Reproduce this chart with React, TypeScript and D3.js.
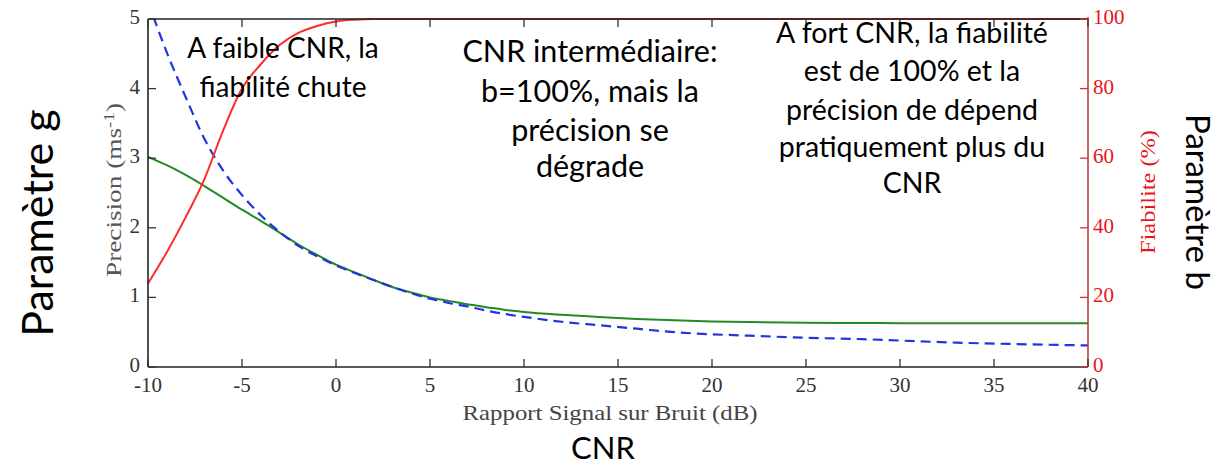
import React from "react";
import * as d3 from "d3";

// ---- data ----
const snrDb = [-10, -9, -8, -7, -6, -5, -4, -3, -2, -1, 0, 1, 2, 3, 4, 5, 6, 7, 8, 9, 10, 12, 14, 16, 18, 20, 22, 25, 28, 30, 33, 36, 40];
const precisionG = [3.02, 2.9, 2.76, 2.6, 2.43, 2.26, 2.1, 1.93, 1.76, 1.61, 1.47, 1.36, 1.25, 1.15, 1.07, 1.0, 0.95, 0.9, 0.86, 0.82, 0.79, 0.75, 0.72, 0.69, 0.67, 0.655, 0.645, 0.635, 0.632, 0.63, 0.63, 0.63, 0.63];
const precisionB = [5.25, 4.52, 3.88, 3.28, 2.82, 2.47, 2.18, 1.94, 1.74, 1.59, 1.46, 1.35, 1.25, 1.15, 1.06, 0.98, 0.92, 0.87, 0.81, 0.76, 0.72, 0.65, 0.6, 0.55, 0.5, 0.47, 0.45, 0.42, 0.4, 0.38, 0.35, 0.33, 0.31];
const reliabilityDb = [-10, -9, -8, -7, -6, -5, -4, -3, -2, -1, 0, 1, 2, 3, 40];
const reliability = [24, 33, 43, 54, 68, 80, 87, 92.5, 96, 98, 99.3, 99.8, 100, 100, 100];

const xTicks = [-10, -5, 0, 5, 10, 15, 20, 25, 30, 35, 40];
const yLeftTicks = [0, 1, 2, 3, 4, 5];
const yRightTicks = [0, 20, 40, 60, 80, 100];

const noteLow = ["A faible CNR, la", "fiabilité chute"];
const noteMid = ["CNR intermédiaire:", "b=100%, mais la", "précision se", "dégrade"];
const noteHigh = ["A fort CNR, la fiabilité", "est de 100% et la", "précision de dépend", "pratiquement plus du", "CNR"];

export default function App() {
  const W = 1227, H = 465;
  const L = 148, R = 1088, T = 19, B = 367;
  const x = d3.scaleLinear().domain([-10, 40]).range([L, R]);
  const yL = d3.scaleLinear().domain([0, 5]).range([B, T]);
  const yR = d3.scaleLinear().domain([0, 100]).range([B, T]);

  const lineG = d3.line<number>().x((_, i) => x(snrDb[i])).y((d) => yL(d)).curve(d3.curveMonotoneX);
  const lineRed = d3.line<number>().x((_, i) => x(reliabilityDb[i])).y((d) => yR(d)).curve(d3.curveMonotoneX);

  const serif = "'Liberation Serif', 'DejaVu Serif', serif";
  const sans = "Lato, 'Open Sans', sans-serif";
  const tickLen = 8;

  const midY = [62, 102, 141, 177];
  const highY = [43, 81, 120, 157, 193];
  const lowY = [58, 97];

  return (
    <svg width={W} height={H} style={{ position: "absolute", left: 0, top: 0, background: "#fff" }}>
      <defs>
        <clipPath id="plot">
          <rect x={L} y={T} width={R - L} height={B - T} />
        </clipPath>
      </defs>
      <rect x={0} y={0} width={W} height={H} fill="#fff" />

      {/* curves */}
      <g clipPath="url(#plot)" fill="none">
        <path d={lineG(precisionG) || ""} stroke="#228a22" strokeWidth={2} />
        <path d={lineG(precisionB) || ""} stroke="#2233e0" strokeWidth={2.2} strokeDasharray="10,6" />
      </g>
      <path d={lineRed(reliability) || ""} fill="none" stroke="#ff2a2a" strokeWidth={2} />

      {/* frame */}
      <line x1={L} x2={L} y1={T} y2={B} stroke="#222" strokeWidth={1.6} />
      <line x1={L} x2={R} y1={B} y2={B} stroke="#222" strokeWidth={1.6} />
      <line x1={L} x2={R} y1={T} y2={T} stroke="#222" strokeWidth={1.6} />
      <line x1={R} x2={R} y1={T - 2} y2={B} stroke="#c43a3a" strokeWidth={1.6} />

      {/* x ticks */}
      {xTicks.map((t) => (
        <g key={"x" + t}>
          <line x1={x(t)} x2={x(t)} y1={B} y2={B - tickLen} stroke="#333" strokeWidth={1.3} />
          <line x1={x(t)} x2={x(t)} y1={T} y2={T + tickLen} stroke="#333" strokeWidth={1.3} />
          <text x={x(t)} y={392} textAnchor="middle" fontFamily={serif} fontSize={21} fill="#333">
            {t}
          </text>
        </g>
      ))}

      {/* left ticks */}
      {yLeftTicks.map((t) => (
        <g key={"yl" + t}>
          <line x1={L} x2={L + tickLen} y1={yL(t)} y2={yL(t)} stroke="#333" strokeWidth={1.3} />
          <text x={140} y={yL(t) + 5} textAnchor="end" fontFamily={serif} fontSize={21} fill="#333">
            {t}
          </text>
        </g>
      ))}

      {/* right ticks */}
      {yRightTicks.map((t) => (
        <g key={"yr" + t}>
          <line x1={R - tickLen} x2={R} y1={yR(t)} y2={yR(t)} stroke="#c43a3a" strokeWidth={1.3} />
          <text x={1093} y={yR(t) + 5} textAnchor="start" fontFamily={serif} fontSize={21} fill="#e8141c">
            {t}
          </text>
        </g>
      ))}

      {/* axis titles */}
      <text transform="translate(121,190) rotate(-90)" textAnchor="middle" fontFamily={serif} fontSize={20} fill="#555" textLength={174} lengthAdjust="spacingAndGlyphs">
        Precision (ms<tspan dy={-7} fontSize={14}>-1</tspan><tspan dy={7}>)</tspan>
      </text>
      <text x={610} y={420} textAnchor="middle" fontFamily={serif} fontSize={21} fill="#444" textLength={295} lengthAdjust="spacingAndGlyphs">
        Rapport Signal sur Bruit (dB)
      </text>
      <text transform="translate(1155,192) rotate(-90)" textAnchor="middle" fontFamily={serif} fontSize={20} fill="#e8141c" textLength={124} lengthAdjust="spacingAndGlyphs">
        Fiabilite (%)
      </text>

      {/* big labels */}
      <text transform="translate(53,223) rotate(-90)" textAnchor="middle" fontFamily={sans} fontSize={43} fill="#000">
        Paramètre g
      </text>
      <text transform="translate(1186,202) rotate(90)" textAnchor="middle" fontFamily={sans} fontSize={33} fill="#000">
        Paramètre b
      </text>
      <text x={603} y={459} textAnchor="middle" fontFamily={sans} fontSize={31} fill="#000">
        CNR
      </text>

      {/* annotations */}
      {noteLow.map((s, i) => (
        <text key={"nl" + i} x={283} y={lowY[i]} textAnchor="middle" fontFamily={sans} fontSize={28} fill="#000">
          {s}
        </text>
      ))}
      {noteMid.map((s, i) => (
        <text key={"nm" + i} x={590} y={midY[i]} textAnchor="middle" fontFamily={sans} fontSize={30.5} fill="#000">
          {s}
        </text>
      ))}
      {noteHigh.map((s, i) => (
        <text key={"nh" + i} x={912} y={highY[i]} textAnchor="middle" fontFamily={sans} fontSize={28.5} fill="#000">
          {s}
        </text>
      ))}
    </svg>
  );
}
